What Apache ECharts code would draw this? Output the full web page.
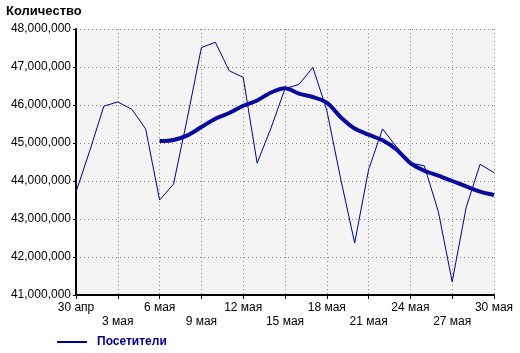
<!DOCTYPE html>
<html>
<head>
<meta charset="utf-8">
<script src="https://cdn.jsdelivr.net/npm/echarts@6/dist/echarts.min.js"></script>
<style>
  html, body { margin: 0; padding: 0; background: #fff; }
  #chart { width: 520px; height: 353px; }
</style>
</head>
<body>
<div id="chart"></div>
<script>
// даты по оси X
var days = ['30 апр', '1 мая', '2 мая', '3 мая', '4 мая', '5 мая', '6 мая', '7 мая', '8 мая',
  '9 мая', '10 мая', '11 мая', '12 мая', '13 мая', '14 мая', '15 мая', '16 мая', '17 мая',
  '18 мая', '19 мая', '20 мая', '21 мая', '22 мая', '23 мая', '24 мая', '25 мая', '26 мая',
  '27 мая', '28 мая', '29 мая', '30 мая'];

// посетители по дням
var visitors = [43710000, 44810000, 45970000, 46080000, 45890000, 45370000, 43500000, 43920000,
  45670000, 47510000, 47650000, 46900000, 46730000, 44470000, 45400000, 46430000, 46540000,
  46990000, 45860000, 44050000, 42370000, 44300000, 45370000, 44900000, 44470000, 44400000,
  43200000, 41350000, 43300000, 44440000, 44220000];

// сглаженная линия (начинается с 6 мая)
var trend = ['-', '-', '-', '-', '-', '-', 45050000, 45080000, 45200000, 45420000, 45640000,
  45790000, 45980000, 46120000, 46330000, 46440000, 46300000, 46210000, 46060000, 45680000,
  45380000, 45220000, 45070000, 44830000, 44470000, 44270000, 44140000, 44000000, 43860000,
  43720000, 43630000];

var FONT = 'Arial, "Liberation Sans", sans-serif';

var chart = echarts.init(document.getElementById('chart'));
chart.setOption({
  animation: false,
  textStyle: { fontFamily: FONT },
  title: {
    text: 'Количество',
    left: 1,
    top: 0,
    textStyle: { fontFamily: FONT, fontSize: 13, fontWeight: 'bold', color: '#000' }
  },
  grid: {
    left: 76, right: 26, top: 29, bottom: 58,
    show: true, backgroundColor: '#f4f4f4', borderWidth: 0
  },
  legend: {
    left: 52,
    top: 331,
    data: ['Посетители'],
    icon: 'rect',
    itemWidth: 30,
    itemHeight: 2,
    textStyle: { fontFamily: FONT, fontSize: 12, fontWeight: 'bold', color: '#00008b', padding: [0, 0, 0, 5] }
  },
  xAxis: {
    type: 'category',
    data: days,
    boundaryGap: false,
    axisLine: { lineStyle: { color: '#000', width: 2 } },
    axisTick: { interval: 2, length: 4, lineStyle: { color: '#000' } },
    axisLabel: {
      interval: 2,
      margin: 6,
      color: '#000',
      fontSize: 12,
      lineHeight: 14,
      formatter: function (v, i) {
        return (i / 3) % 2 ? '\n' + v : v;
      }
    },
    splitLine: { show: true, interval: 2, lineStyle: { color: '#808080', type: [1, 3] } }
  },
  yAxis: {
    type: 'value',
    min: 41000000,
    max: 48000000,
    interval: 1000000,
    axisLine: { show: true, lineStyle: { color: '#000', width: 2 } },
    axisTick: { show: true, length: 3, lineStyle: { color: '#000' } },
    axisLabel: {
      margin: 5,
      color: '#000',
      fontSize: 12,
      formatter: function (v) {
        return String(v).replace(/\B(?=(\d{3})+(?!\d))/g, ',');
      }
    },
    splitLine: { show: true, lineStyle: { color: '#808080', type: [1, 3] } }
  },
  series: [
    {
      name: 'Посетители',
      type: 'line',
      data: visitors,
      showSymbol: false,
      lineStyle: { color: '#0000a0', width: 1 },
      itemStyle: { color: '#0000a0' }
    },
    {
      name: 'Тренд',
      type: 'line',
      data: trend,
      smooth: 0.3,
      showSymbol: false,
      lineStyle: { color: '#0a0a9c', width: 4 },
      itemStyle: { color: '#0a0a9c' }
    }
  ]
});
</script>
</body>
</html>
